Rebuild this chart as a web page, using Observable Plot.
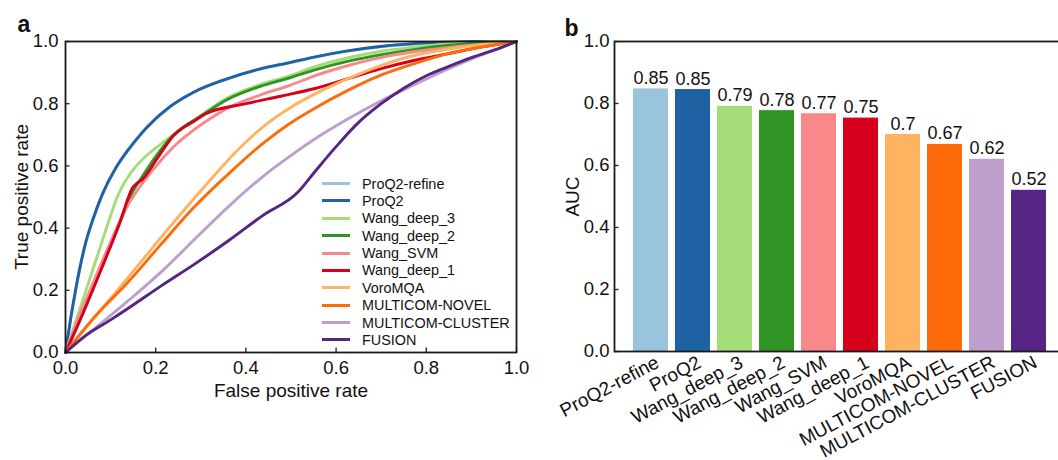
<!DOCTYPE html>
<html><head><meta charset="utf-8">
<script src="https://cdn.jsdelivr.net/npm/d3@7"></script>
<script src="https://cdn.jsdelivr.net/npm/@observablehq/plot@0.6"></script>
<style>
html,body{margin:0;padding:0;background:#fff;overflow:hidden;}
#wrap{position:relative;width:1058px;height:460px;overflow:hidden;font-family:"Liberation Sans",Arial,Helvetica,sans-serif;color:#111;}
#wrap svg{position:absolute;top:0;}
#legend{position:absolute;left:322px;font-size:14.4px;color:#111;}
#legend .row{display:flex;align-items:center;height:17.38px;white-space:nowrap;}
#legend .sw{display:inline-block;width:28px;height:3px;margin-right:12px;}
</style></head><body><div id="wrap"></div>
<script>
const methods = ["ProQ2-refine","ProQ2","Wang_deep_3","Wang_deep_2","Wang_SVM","Wang_deep_1","VoroMQA","MULTICOM-NOVEL","MULTICOM-CLUSTER","FUSION"];
const colors = ["#9ac3dd","#1f62a4","#a4dc78","#2f9424","#f8888a","#d6001c","#fdb35f","#fd6b0b","#bd9fcb","#542585"];
const auc = [0.847,0.845,0.791,0.777,0.767,0.753,0.700,0.668,0.620,0.520];
const aucLabels = ["0.85","0.85","0.79","0.78","0.77","0.75","0.7","0.67","0.62","0.52"];
const axisTicks = [0,0.2,0.4,0.6,0.8,1.0];

// ROC curves: [false positive rate, true positive rate]
const rocProQ2refine = [[0,0],[0.011,0.103],[0.022,0.196],[0.033,0.278],[0.045,0.353],[0.06,0.423],[0.082,0.508],[0.11,0.588],[0.137,0.646],[0.16,0.689],[0.181,0.724],[0.233,0.791],[0.284,0.836],[0.358,0.879],[0.432,0.911],[0.499,0.932],[0.551,0.949],[0.625,0.969],[0.698,0.983],[0.772,0.992],[0.846,0.997],[0.92,0.999],[1,1]];
const rocProQ2 = [[0,0],[0.011,0.105],[0.022,0.198],[0.033,0.28],[0.045,0.355],[0.06,0.425],[0.082,0.51],[0.11,0.59],[0.137,0.648],[0.16,0.69],[0.181,0.725],[0.233,0.792],[0.284,0.837],[0.358,0.88],[0.432,0.912],[0.499,0.933],[0.551,0.95],[0.625,0.97],[0.698,0.984],[0.772,0.993],[0.846,0.998],[0.92,1.0],[1,1]];
const rocWangDeep3 = [[0,0],[0.025,0.11],[0.05,0.22],[0.075,0.33],[0.1,0.44],[0.112,0.49],[0.125,0.532],[0.138,0.563],[0.155,0.597],[0.175,0.627],[0.22,0.68],[0.255,0.716],[0.3,0.762],[0.358,0.818],[0.432,0.862],[0.499,0.89],[0.551,0.918],[0.625,0.947],[0.698,0.968],[0.772,0.982],[0.846,0.992],[0.92,0.998],[1,1]];
const rocWangDeep2 = [[0,0],[0.04,0.14],[0.08,0.28],[0.12,0.42],[0.15,0.52],[0.17,0.565],[0.2,0.63],[0.24,0.7],[0.3,0.76],[0.358,0.813],[0.432,0.856],[0.499,0.884],[0.551,0.908],[0.625,0.936],[0.698,0.957],[0.772,0.974],[0.846,0.987],[0.92,0.996],[1,1]];
const rocWangSVM = [[0,0],[0.026,0.101],[0.063,0.23],[0.101,0.359],[0.137,0.47],[0.175,0.553],[0.213,0.62],[0.248,0.673],[0.284,0.715],[0.322,0.753],[0.358,0.785],[0.432,0.828],[0.499,0.86],[0.551,0.889],[0.625,0.922],[0.698,0.948],[0.772,0.967],[0.846,0.98],[0.92,0.99],[1,1]];
const rocWangDeep1 = [[0,0],[0.04,0.13],[0.08,0.27],[0.12,0.415],[0.149,0.53],[0.16,0.546],[0.17,0.556],[0.203,0.623],[0.24,0.698],[0.262,0.724],[0.284,0.743],[0.31,0.767],[0.4,0.8],[0.477,0.824],[0.551,0.848],[0.625,0.88],[0.698,0.912],[0.772,0.939],[0.846,0.96],[0.92,0.982],[1,1]];
const rocVoroMQA = [[0,0],[0.063,0.11],[0.138,0.24],[0.213,0.372],[0.3,0.52],[0.388,0.66],[0.44,0.728],[0.499,0.788],[0.551,0.83],[0.625,0.88],[0.698,0.922],[0.772,0.955],[0.846,0.975],[0.92,0.99],[1,1]];
const rocMulticomNovel = [[0,0],[0.063,0.112],[0.138,0.225],[0.213,0.35],[0.287,0.47],[0.362,0.575],[0.44,0.675],[0.499,0.738],[0.551,0.784],[0.625,0.842],[0.698,0.891],[0.772,0.928],[0.846,0.96],[0.92,0.982],[1,1]];
const rocMulticomCluster = [[0,0],[0.063,0.075],[0.138,0.165],[0.213,0.26],[0.287,0.365],[0.362,0.47],[0.437,0.565],[0.511,0.645],[0.551,0.685],[0.625,0.75],[0.698,0.808],[0.772,0.86],[0.846,0.91],[0.92,0.955],[1,1]];
const rocFusion = [[0,0],[0.045,0.055],[0.1,0.105],[0.14,0.143],[0.213,0.215],[0.287,0.285],[0.362,0.36],[0.437,0.44],[0.515,0.515],[0.551,0.578],[0.6,0.662],[0.65,0.74],[0.7,0.8],[0.75,0.85],[0.8,0.89],[0.85,0.92],[0.9,0.948],[0.95,0.972],[1,1]];
const rocCurves = [rocProQ2refine,rocProQ2,rocWangDeep3,rocWangDeep2,rocWangSVM,rocWangDeep1,rocVoroMQA,rocMulticomNovel,rocMulticomCluster,rocFusion];

const FONT = `"Liberation Sans", Arial, Helvetica, sans-serif`;
const FS = 18.5;   // tick labels
const FT = 19;     // axis titles
const FB = 18;     // bar value labels
const FC = 19;     // category labels
const H = 460;
const wrap = document.getElementById("wrap");

// ---------- panel a ----------
const A = {width: 530, top: 41, left: 65, right: 14, bottom: 108};
const plotWA = A.width - A.left - A.right;
const plotH = H - A.top - A.bottom;
const rocRows = methods.flatMap((m, i) => rocCurves[i].map(([fpr, tpr]) => ({method: m, fpr, tpr})));

const chartA = Plot.plot({
  width: A.width, height: H,
  marginTop: A.top, marginLeft: A.left, marginRight: A.right, marginBottom: A.bottom,
  style: {fontFamily: FONT, fontSize: FS + "px", color: "#111", background: "transparent", overflow: "visible"},
  x: {domain: [0, 1], axis: null},
  y: {domain: [0, 1], axis: null},
  color: {domain: methods, range: colors},
  marks: [
    Plot.line(rocRows, {x: "fpr", y: "tpr", z: "method", stroke: "method", strokeWidth: 2.9, curve: "monotone-x", strokeLinejoin: "round"}),
    Plot.ruleX(axisTicks, {x: d => d, insetTop: plotH - 4.5, stroke: "#222", strokeWidth: 1.3}),
    Plot.ruleY(axisTicks, {y: d => d, insetRight: plotWA - 4.5, stroke: "#222", strokeWidth: 1.3}),
    Plot.frame({stroke: "#1a1a1a", strokeWidth: 1.8}),
    Plot.axisX({ticks: axisTicks, tickSize: 0, tickPadding: 8, tickFormat: d3.format(".1f"), label: null, fontSize: FS}),
    Plot.axisY({ticks: axisTicks, tickSize: 0, tickPadding: 7, tickFormat: d3.format(".1f"), label: null, fontSize: FS}),
    Plot.text(["False positive rate"], {text: d => d, frameAnchor: "bottom", dy: 31, textAnchor: "middle", lineAnchor: "top", fontSize: FT}),
    Plot.text(["True positive rate"], {text: d => d, frameAnchor: "left", rotate: -90, dx: -44, textAnchor: "middle", lineAnchor: "middle", fontSize: FT}),
    Plot.text(["a"], {text: d => d, frameAnchor: "top-left", dx: -48, dy: -9.5, textAnchor: "start", lineAnchor: "bottom", fontSize: 23, fontWeight: "bold"})
  ]
});
chartA.style.left = "0px";
wrap.appendChild(chartA);

// legend (inside panel a)
const legend = document.createElement("div");
legend.id = "legend";
legend.style.top = (183.6 - 17.38 / 2) + "px";
methods.forEach((m, i) => {
  const row = document.createElement("div");
  row.className = "row";
  const sw = document.createElement("span");
  sw.className = "sw";
  sw.style.background = colors[i];
  const t = document.createElement("span");
  t.textContent = m;
  row.appendChild(sw); row.appendChild(t);
  legend.appendChild(row);
});
wrap.appendChild(legend);

// ---------- panel b ----------
const B = {width: 545, top: 41, left: 84, right: 9.3, bottom: 109};
const plotWB = B.width - B.left - B.right;
const barRows = methods.map((m, i) => ({method: m, auc: auc[i], label: aucLabels[i]}));

const chartB = Plot.plot({
  width: B.width, height: H,
  marginTop: B.top, marginLeft: B.left, marginRight: B.right, marginBottom: B.bottom,
  style: {fontFamily: FONT, fontSize: FS + "px", color: "#111", background: "transparent", overflow: "visible"},
  x: {domain: methods, paddingInner: 0.17, paddingOuter: 0.392, axis: null},
  y: {domain: [0, 1], axis: null},
  color: {domain: methods, range: colors},
  marks: [
    Plot.barY(barRows, {x: "method", y: "auc", fill: "method"}),
    Plot.text(barRows, {x: "method", y: "auc", text: "label", textAnchor: "middle", lineAnchor: "bottom", dy: -5, fontSize: FB}),
    Plot.ruleY(axisTicks, {y: d => d, insetRight: plotWB - 4.5, stroke: "#222", strokeWidth: 1.3}),
    Plot.frame({stroke: "#1a1a1a", strokeWidth: 1.8}),
    Plot.axisY({ticks: axisTicks, tickSize: 0, tickPadding: 5, tickFormat: d3.format(".1f"), label: null, fontSize: FS}),
    Plot.text(methods, {x: d => d, text: d => d, frameAnchor: "bottom", rotate: -28, textAnchor: "end", lineAnchor: "top", dx: 3, dy: 3, fontSize: FC}),
    Plot.text(["AUC"], {text: d => d, frameAnchor: "left", rotate: -90, dx: -42, textAnchor: "middle", lineAnchor: "middle", fontSize: FT}),
    Plot.text(["b"], {text: d => d, frameAnchor: "top-left", dx: -50, dy: -6, textAnchor: "start", lineAnchor: "bottom", fontSize: 23, fontWeight: "bold"})
  ]
});
chartB.style.left = "530px";
wrap.appendChild(chartB);
</script>
</body></html>
